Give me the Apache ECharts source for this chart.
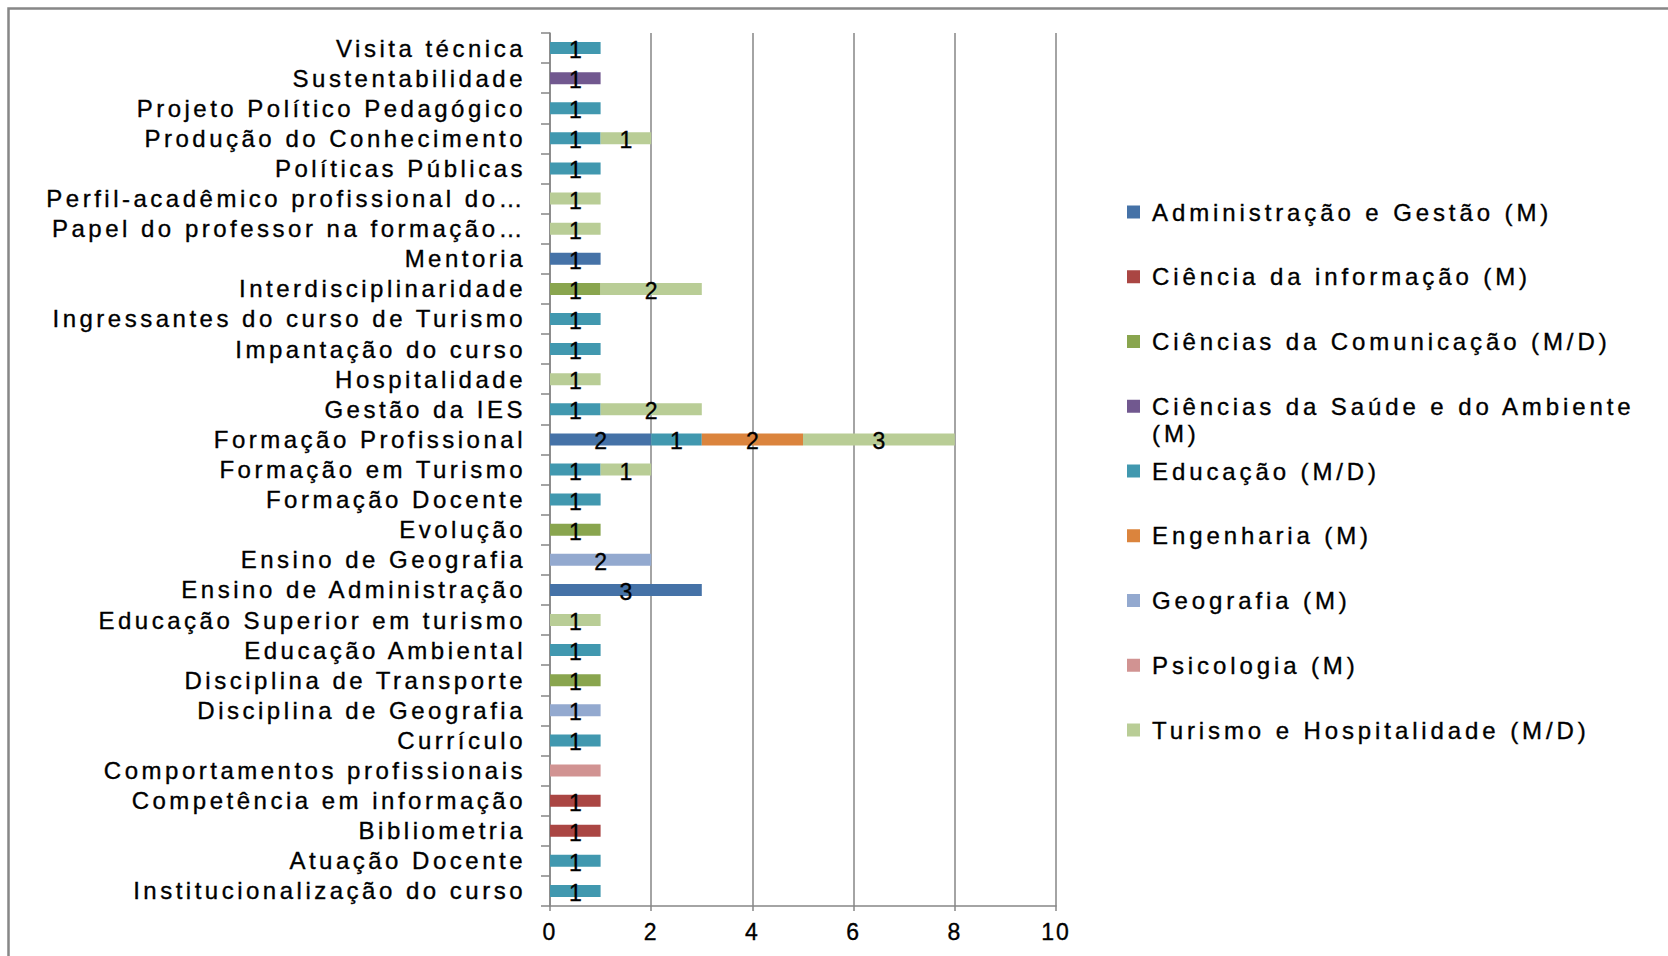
<!DOCTYPE html>
<html>
<head>
<meta charset="utf-8">
<script src="https://cdn.jsdelivr.net/npm/echarts@6/dist/echarts.min.js"></script>
<style>
  html, body { margin: 0; padding: 0; background: #ffffff; }
  #chart { width: 1668px; height: 956px; }
  /* wide, spaced lettering for the three text groups, slightly heavier strokes */
  text[style*="lblcat"] { letter-spacing: 3.5px; stroke: #000; stroke-width: 0.35px; }
  text[style*="lblleg"] { letter-spacing: 3.9px; stroke: #000; stroke-width: 0.35px; }
  text[style*="lbltick"] { letter-spacing: 2px; stroke: #000; stroke-width: 0.35px; }
  text[style*="lblval"] { stroke: #000; stroke-width: 0.35px; }
</style>
</head>
<body>
<div id="chart"></div>
<script>
// Temas (de cima para baixo)
const categorias = [
  'Visita técnica',
  'Sustentabilidade',
  'Projeto Político Pedagógico',
  'Produção do Conhecimento',
  'Políticas Públicas',
  'Perfil-acadêmico profissional do…',
  'Papel do professor na formação…',
  'Mentoria',
  'Interdisciplinaridade',
  'Ingressantes do curso de Turismo',
  'Impantação do curso',
  'Hospitalidade',
  'Gestão da IES',
  'Formação Profissional',
  'Formação em Turismo',
  'Formação Docente',
  'Evolução',
  'Ensino de Geografia',
  'Ensino de Administração',
  'Educação Superior em turismo',
  'Educação Ambiental',
  'Disciplina de Transporte',
  'Disciplina de Geografia',
  'Currículo',
  'Comportamentos profissionais',
  'Competência em informação',
  'Bibliometria',
  'Atuação Docente',
  'Institucionalização do curso'
];

const _ = null;
// Quantidade de trabalhos por área, na mesma ordem dos temas
const administracao = [_, _, _, _, _, _, _, 1, _, _, _, _, _, 2, _, _, _, _, 3, _, _, _, _, _, _, _, _, _, _];
const cienciaInformacao = [_, _, _, _, _, _, _, _, _, _, _, _, _, _, _, _, _, _, _, _, _, _, _, _, _, 1, 1, _, _];
const comunicacao = [_, _, _, _, _, _, _, _, 1, _, _, _, _, _, _, _, 1, _, _, _, _, 1, _, _, _, _, _, _, _];
const saudeAmbiente = [_, 1, _, _, _, _, _, _, _, _, _, _, _, _, _, _, _, _, _, _, _, _, _, _, _, _, _, _, _];
const educacao = [1, _, 1, 1, 1, _, _, _, _, 1, 1, _, 1, 1, 1, 1, _, _, _, _, 1, _, _, 1, _, _, _, 1, 1];
const engenharia = [_, _, _, _, _, _, _, _, _, _, _, _, _, 2, _, _, _, _, _, _, _, _, _, _, _, _, _, _, _];
const geografia = [_, _, _, _, _, _, _, _, _, _, _, _, _, _, _, _, _, 2, _, _, _, _, 1, _, _, _, _, _, _];
const psicologia = [_, _, _, _, _, _, _, _, _, _, _, _, _, _, _, _, _, _, _, _, _, _, _, _, 1, _, _, _, _];
const turismo = [_, _, _, 1, _, 1, 1, _, 2, _, _, 1, 2, 3, 1, _, _, _, _, 1, _, _, _, _, _, _, _, _, _];

const nomesSeries = [
  'Administração e Gestão (M)',
  'Ciência da informação (M)',
  'Ciências da Comunicação (M/D)',
  'Ciências da Saúde e do Ambiente (M)',
  'Educação (M/D)',
  'Engenharia (M)',
  'Geografia (M)',
  'Psicologia (M)',
  'Turismo e Hospitalidade (M/D)'
];
const valoresSeries = [administracao, cienciaInformacao, comunicacao, saudeAmbiente,
  educacao, engenharia, geografia, psicologia, turismo];
const cores = ['#4572A7', '#AA4643', '#89A54E', '#71588F', '#4198AF',
  '#DB843D', '#93A9CF', '#D19392', '#B9CD96'];
// séries cujos segmentos aparecem sem rótulo de valor
const semRotulo = ['Psicologia (M)'];
const ticksX = [0, 2, 4, 6, 8, 10];

const gray = '#868686';
const chart = echarts.init(document.getElementById('chart'), null, { renderer: 'svg' });

const series = nomesSeries.map((nome, i) => ({
  name: nome,
  type: 'bar',
  stack: 'total',
  barWidth: 12,
  data: valoresSeries[i],
  itemStyle: { color: cores[i] },
  label: {
    show: semRotulo.indexOf(nome) < 0,
    position: 'inside',
    color: '#000',
    fontSize: 23,
    fontFamily: "'Liberation Sans', lblval",
    offset: [0, 2]
  },
  emphasis: { disabled: true }
}));

// uma legenda por série, empilhadas à direita
const LH = 27;
const legendCenters = nomesSeries.map((n, i) => 212 + i * 64.75);
const legends = nomesSeries.map((nome, i) => {
  const twoLines = nome.indexOf('Saúde') >= 0;
  return {
    data: [nome],
    orient: 'vertical',
    left: 1127,
    top: legendCenters[i] - (twoLines ? 1.5 * LH : LH / 2),
    padding: 0,
    icon: 'rect',
    itemWidth: 13,
    itemHeight: 13,
    selectedMode: false,
    // a linha vazia inicial mantém o marcador alinhado à primeira linha do texto
    formatter: twoLines ? (n) => '\n' + n.replace(' (M)', '\n(M)') : undefined,
    textStyle: {
      fontSize: 24,
      lineHeight: LH,
      color: '#000',
      fontFamily: "'Liberation Sans', lblleg",
      padding: [0, 0, 0, 7]
    }
  };
});

chart.setOption({
  animation: false,
  backgroundColor: '#ffffff',
  color: cores,
  grid: { left: 550, right: 612, top: 33, bottom: 50 },
  legend: legends,
  xAxis: {
    type: 'value',
    min: ticksX[0],
    max: ticksX[ticksX.length - 1],
    interval: 2,
    axisLine: { show: true, lineStyle: { color: gray, width: 1.5 } },
    axisTick: { show: true, length: 5, lineStyle: { color: gray, width: 1.5 } },
    splitLine: { show: true, lineStyle: { color: gray, width: 1.5 } },
    axisLabel: {
      color: '#000',
      fontSize: 23,
      margin: 14,
      fontFamily: "'Liberation Sans', lbltick",
      formatter: (v) => (ticksX.indexOf(v) >= 0 ? String(v) : '')
    }
  },
  yAxis: {
    type: 'category',
    inverse: true,
    data: categorias,
    axisLine: { show: true, lineStyle: { color: gray, width: 1.5 } },
    axisTick: { show: true, length: 9, lineStyle: { color: gray, width: 1.5 } },
    splitLine: { show: false },
    axisLabel: {
      interval: 0,
      color: '#000',
      fontSize: 24,
      margin: 24,
      fontFamily: "'Liberation Sans', lblcat"
    }
  },
  graphic: [{
    type: 'rect',
    silent: true,
    shape: { x: 8.5, y: 8.5, width: 1720, height: 1000 },
    style: { fill: 'none', stroke: '#878787', lineWidth: 2.5 }
  }],
  series: series
});
</script>
</body>
</html>
